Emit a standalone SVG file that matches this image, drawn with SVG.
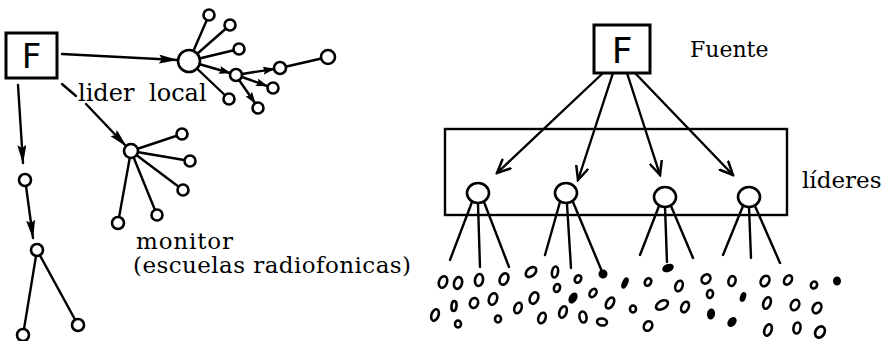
<svg xmlns="http://www.w3.org/2000/svg" width="892" height="341" viewBox="0 0 892 341">
<style>
.ln{stroke:#000;stroke-width:2.4;fill:none;stroke-linecap:round}
.nd{fill:#fff;stroke:#000;stroke-width:2.6}
.bx{fill:#fff;stroke:#000;stroke-width:3}
.lbl{font-family:"DejaVu Serif","Liberation Serif",serif;fill:#000}
.ff{font-family:"DejaVu Sans","Liberation Sans",sans-serif;fill:#000}
.d{fill:#fff;stroke:#000;stroke-width:2.6}
.df{fill:#000;stroke:#000;stroke-width:2}
</style>
<defs>
<marker id="ah" markerUnits="userSpaceOnUse" markerWidth="19" markerHeight="9" refX="18" refY="4.5" orient="auto" viewBox="0 0 19 9"><path d="M0,0 L19,4.5 L0,9 L3,4.5 z" fill="#000"/></marker>
<marker id="as" markerUnits="userSpaceOnUse" markerWidth="12" markerHeight="8" refX="11" refY="4" orient="auto" viewBox="0 0 12 8"><path d="M0,0 L12,4 L0,8 L2,4 z" fill="#000"/></marker>
<marker id="av" markerUnits="userSpaceOnUse" markerWidth="16" markerHeight="14" refX="14" refY="7" orient="auto" viewBox="0 0 16 14"><path d="M1,1 L14,7 L1,13" fill="none" stroke="#000" stroke-width="2.5" stroke-linecap="round"/></marker>
</defs>

<g id="connectors">
<!-- left diagram -->
<line class="ln" x1="62" y1="54" x2="177" y2="60" marker-end="url(#ah)"/>
<line class="ln" x1="62" y1="84" x2="76" y2="96"/>
<line class="ln" x1="86" y1="104" x2="126" y2="146" marker-end="url(#ah)"/>
<line class="ln" x1="18" y1="85" x2="23" y2="163" marker-end="url(#ah)"/>
<line class="ln" x1="26" y1="186" x2="33" y2="238" marker-end="url(#ah)"/>
<line class="ln" x1="37" y1="250" x2="23" y2="335"/>
<line class="ln" x1="37" y1="250" x2="78" y2="325"/>
<line class="ln" x1="189" y1="61" x2="209" y2="15"/>
<line class="ln" x1="189" y1="61" x2="230" y2="25"/>
<line class="ln" x1="189" y1="61" x2="239" y2="49"/>
<line class="ln" x1="189" y1="61" x2="229" y2="99"/>
<line class="ln" x1="199" y1="64" x2="230" y2="73" marker-end="url(#as)"/>
<line class="ln" x1="242" y1="74" x2="274" y2="69" marker-end="url(#as)"/>
<line class="ln" x1="280" y1="68" x2="328" y2="57"/>
<line class="ln" x1="242" y1="77" x2="267" y2="86" marker-end="url(#as)"/>
<line class="ln" x1="239" y1="80" x2="255" y2="103" marker-end="url(#as)"/>
<line class="ln" x1="131" y1="151" x2="182" y2="134"/>
<line class="ln" x1="131" y1="151" x2="190" y2="161"/>
<line class="ln" x1="131" y1="151" x2="183" y2="190"/>
<line class="ln" x1="131" y1="151" x2="157" y2="215"/>
<line class="ln" x1="131" y1="151" x2="118" y2="223"/>
<!-- right diagram -->
<line class="ln" x1="603" y1="73" x2="497" y2="173" marker-end="url(#av)"/>
<line class="ln" x1="613" y1="73" x2="578" y2="180" marker-end="url(#av)"/>
<line class="ln" x1="627" y1="73" x2="660" y2="175" marker-end="url(#av)"/>
<line class="ln" x1="635" y1="73" x2="733" y2="175" marker-end="url(#av)"/>
<line class="ln" x1="472" y1="202" x2="450" y2="260"/>
<line class="ln" x1="478" y1="204" x2="480" y2="267"/>
<line class="ln" x1="484" y1="202" x2="509" y2="267"/>
<line class="ln" x1="560" y1="202" x2="545" y2="255"/>
<line class="ln" x1="567" y1="204" x2="571" y2="268"/>
<line class="ln" x1="573" y1="202" x2="603" y2="274"/>
<line class="ln" x1="659" y1="206" x2="640" y2="255"/>
<line class="ln" x1="665" y1="207" x2="667" y2="262"/>
<line class="ln" x1="671" y1="206" x2="693" y2="258"/>
<line class="ln" x1="743" y1="206" x2="723" y2="255"/>
<line class="ln" x1="749" y1="207" x2="751" y2="258"/>
<line class="ln" x1="755" y1="206" x2="780" y2="263"/>
</g>

<g id="F-left">
<rect class="bx" x="6" y="33" width="51" height="45"/>
<text class="ff" x="31.5" y="68" font-size="34" text-anchor="middle">F</text>
</g>

<g id="hub-top">
<circle class="nd" cx="189" cy="61" r="11"/>
<circle class="nd" cx="209" cy="15" r="5.5"/>
<circle class="nd" cx="230" cy="25" r="5.5"/>
<circle class="nd" cx="239" cy="49" r="5.5"/>
<circle class="nd" cx="229" cy="99" r="5.5"/>
<circle class="nd" cx="236" cy="75" r="6"/>
<circle class="nd" cx="280" cy="68" r="6"/>
<circle class="nd" cx="328" cy="57" r="7"/>
<circle class="nd" cx="273" cy="88" r="5.5"/>
<circle class="nd" cx="258" cy="108" r="5.5"/>
</g>

<g id="monitor-node">
<circle class="nd" cx="131" cy="151" r="7"/>
<circle class="nd" cx="182" cy="134" r="5.5"/>
<circle class="nd" cx="190" cy="161" r="5.5"/>
<circle class="nd" cx="183" cy="190" r="5.5"/>
<circle class="nd" cx="157" cy="215" r="5.5"/>
<circle class="nd" cx="118" cy="223" r="6"/>
</g>

<g id="chain">
<circle class="nd" cx="25" cy="180" r="6"/>
<circle class="nd" cx="37" cy="250" r="6"/>
<circle class="nd" cx="23" cy="335" r="6"/>
<circle class="nd" cx="78" cy="325" r="6"/>
</g>

<g id="labels-left">
<text class="lbl" x="78" y="101" font-size="24" word-spacing="7">lider local</text>
<text class="lbl" x="136" y="249" font-size="23" textLength="97">monitor</text>
<text class="lbl" x="133" y="273" font-size="23" textLength="278">(escuelas radiofonicas)</text>
</g>

<g id="F-right">
<rect class="bx" x="594" y="25" width="56" height="48"/>
<text class="ff" x="622" y="63" font-size="36" text-anchor="middle">F</text>
<text class="lbl" x="690" y="57" font-size="22">Fuente</text>
</g>

<g id="lideres">
<rect x="445" y="129" width="342" height="86" fill="none" stroke="#000" stroke-width="2.4"/>
<ellipse class="nd" cx="478" cy="193" rx="11" ry="10"/>
<ellipse class="nd" cx="566" cy="193" rx="11" ry="10"/>
<ellipse class="nd" cx="665" cy="197" rx="11" ry="10"/>
<ellipse class="nd" cx="749" cy="197" rx="11" ry="10"/>
<text class="lbl" x="802" y="188" font-size="23">líderes</text>
</g>

<g id="audience">
<ellipse class="d" cx="443" cy="282" rx="4" ry="6" transform="rotate(20 443 282)"/>
<ellipse class="d" cx="458" cy="283" rx="4" ry="6" transform="rotate(15 458 283)"/>
<ellipse class="d" cx="479" cy="280" rx="4" ry="6" transform="rotate(10 479 280)"/>
<ellipse class="d" cx="504" cy="279" rx="4" ry="6" transform="rotate(25 504 279)"/>
<ellipse class="d" cx="531" cy="272" rx="4" ry="6" transform="rotate(50 531 272)"/>
<ellipse class="d" cx="555" cy="272" rx="3" ry="5.5" transform="rotate(10 555 272)"/>
<ellipse class="d" cx="578" cy="279" rx="3" ry="4" transform="rotate(30 578 279)"/>
<ellipse class="df" cx="603" cy="274" rx="3.5" ry="3.5"/>
<ellipse class="df" cx="625" cy="283" rx="2" ry="5" transform="rotate(25 625 283)"/>
<ellipse class="d" cx="648" cy="282" rx="3" ry="4" transform="rotate(30 648 282)"/>
<ellipse class="d" cx="679" cy="286" rx="3.5" ry="5.5" transform="rotate(20 679 286)"/>
<ellipse class="d" cx="706" cy="279" rx="4" ry="5" transform="rotate(40 706 279)"/>
<ellipse class="d" cx="732" cy="281" rx="3.5" ry="5" transform="rotate(15 732 281)"/>
<ellipse class="d" cx="765" cy="281" rx="4" ry="5.5" transform="rotate(30 765 281)"/>
<ellipse class="d" cx="788" cy="280" rx="3.5" ry="5" transform="rotate(35 788 280)"/>
<ellipse class="d" cx="814" cy="285" rx="3" ry="3.5" transform="rotate(30 814 285)"/>
<ellipse class="df" cx="837" cy="281" rx="3" ry="3.5"/>
<ellipse class="df" cx="668" cy="268" rx="5" ry="3" transform="rotate(-20 668 268)"/>
<ellipse class="d" cx="435" cy="315" rx="3.5" ry="6" transform="rotate(20 435 315)"/>
<ellipse class="d" cx="454" cy="306" rx="2.5" ry="5" transform="rotate(5 454 306)"/>
<ellipse class="d" cx="474" cy="303" rx="4" ry="5" transform="rotate(20 474 303)"/>
<ellipse class="d" cx="493" cy="299" rx="4" ry="6" transform="rotate(20 493 299)"/>
<ellipse class="d" cx="518" cy="308" rx="3.5" ry="5.5" transform="rotate(20 518 308)"/>
<ellipse class="d" cx="534" cy="298" rx="4" ry="6" transform="rotate(25 534 298)"/>
<ellipse class="d" cx="557" cy="288" rx="3" ry="4" transform="rotate(20 557 288)"/>
<ellipse class="df" cx="573" cy="298" rx="3" ry="5" transform="rotate(30 573 298)"/>
<ellipse class="d" cx="593" cy="293" rx="3" ry="4.5" transform="rotate(35 593 293)"/>
<ellipse class="d" cx="610" cy="303" rx="3.5" ry="6" transform="rotate(30 610 303)"/>
<ellipse class="d" cx="633" cy="309" rx="3" ry="3.5"/>
<ellipse class="d" cx="662" cy="305" rx="4" ry="6.5" transform="rotate(60 662 305)"/>
<ellipse class="d" cx="685" cy="307" rx="3.5" ry="5.5" transform="rotate(25 685 307)"/>
<ellipse class="d" cx="710" cy="294" rx="3" ry="4" transform="rotate(10 710 294)"/>
<ellipse class="df" cx="711" cy="314" rx="3" ry="4.5" transform="rotate(10 711 314)"/>
<ellipse class="df" cx="743" cy="297" rx="2" ry="4" transform="rotate(20 743 297)"/>
<ellipse class="d" cx="767" cy="303" rx="3.5" ry="6" transform="rotate(20 767 303)"/>
<ellipse class="d" cx="795" cy="305" rx="4" ry="5.5" transform="rotate(25 795 305)"/>
<ellipse class="d" cx="817" cy="308" rx="4" ry="5.5" transform="rotate(30 817 308)"/>
<ellipse class="d" cx="458" cy="324" rx="3" ry="3.5"/>
<ellipse class="d" cx="498" cy="319" rx="3" ry="3.5"/>
<ellipse class="d" cx="542" cy="318" rx="3.5" ry="5.5" transform="rotate(20 542 318)"/>
<ellipse class="d" cx="563" cy="312" rx="3.5" ry="6" transform="rotate(20 563 312)"/>
<ellipse class="d" cx="583" cy="317" rx="3.5" ry="5.5" transform="rotate(-10 583 317)"/>
<ellipse class="d" cx="602" cy="322" rx="5" ry="3.5" transform="rotate(10 602 322)"/>
<ellipse class="d" cx="648" cy="326" rx="4" ry="5" transform="rotate(30 648 326)"/>
<ellipse class="df" cx="732" cy="322" rx="3" ry="4.5" transform="rotate(40 732 322)"/>
<ellipse class="d" cx="768" cy="330" rx="3.5" ry="6" transform="rotate(20 768 330)"/>
<ellipse class="d" cx="797" cy="328" rx="3.5" ry="5.5" transform="rotate(10 797 328)"/>
<ellipse class="d" cx="820" cy="332" rx="4.5" ry="6" transform="rotate(30 820 332)"/>
</g>
</svg>
